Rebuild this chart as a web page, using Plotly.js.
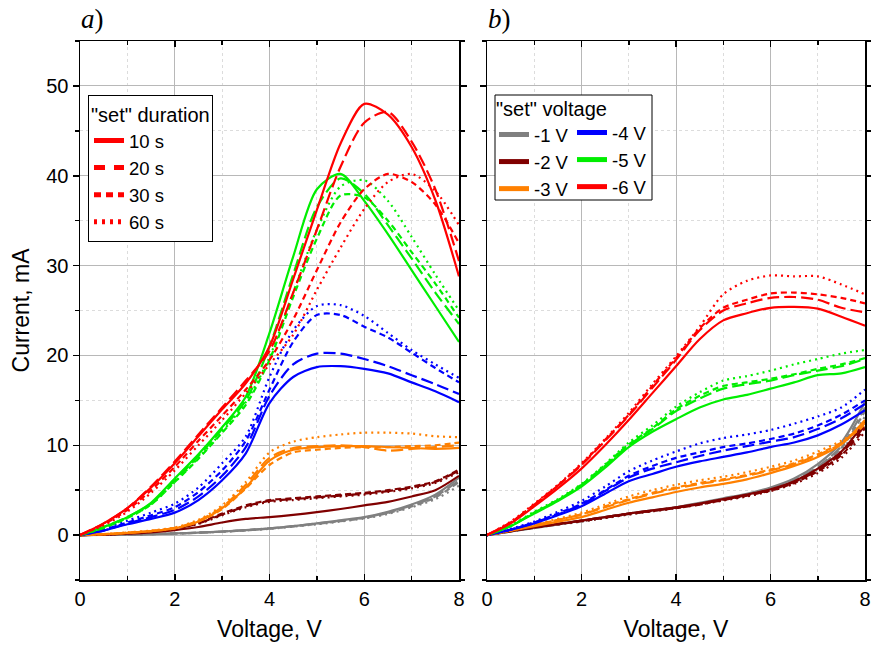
<!DOCTYPE html>
<html>
<head>
<meta charset="utf-8">
<script src="https://cdn.plot.ly/plotly-3.0.1.min.js"></script>
<style>html,body{margin:0;padding:0;background:#fff;}#chart{width:871px;height:645px;}</style>
</head>
<body>
<div id="chart"></div>
<script>
// Voltage grid (V), shared by all curves
const X = [0,0.5,1,1.5,2,2.5,3,3.5,4,4.5,5,5.5,6,6.5,7,7.5,8];

// Panel a) — colour = set voltage, line style = set duration
const a_m1_10 = [0,0.02,0.05,0.1,0.18,0.27,0.4,0.55,0.75,1.0,1.3,1.65,2.0,2.6,3.4,4.5,6.4];
const a_m1_20 = [0,0.02,0.05,0.1,0.18,0.27,0.4,0.55,0.75,1.0,1.3,1.6,1.95,2.5,3.3,4.3,6.1];
const a_m1_30 = [0,0.02,0.05,0.1,0.17,0.26,0.38,0.52,0.72,0.97,1.25,1.55,1.9,2.45,3.2,4.2,5.9];
const a_m1_60 = [0,0.02,0.05,0.1,0.17,0.26,0.38,0.52,0.7,0.95,1.2,1.5,1.85,2.35,3.1,4.0,5.5];
const a_m2_10 = [0,0.05,0.15,0.3,0.55,0.9,1.4,1.8,2.0,2.25,2.55,2.9,3.3,3.7,4.3,5.0,6.6];
const a_m2_20 = [0,0.05,0.2,0.4,0.7,1.3,2.3,3.2,3.8,4.0,4.2,4.4,4.6,4.9,5.3,5.9,7.2];
const a_m2_30 = [0,0.05,0.2,0.4,0.75,1.35,2.4,3.3,3.9,4.1,4.3,4.5,4.7,5.0,5.4,6.0,7.3];
const a_m2_60 = [0,0.05,0.2,0.4,0.7,1.25,2.2,3.1,3.7,3.9,4.1,4.3,4.5,4.8,5.2,5.8,7.0];
const a_m3_10 = [0,0.1,0.25,0.45,0.75,1.5,3.0,5.3,8.3,9.5,9.8,9.9,9.9,9.8,9.7,9.6,9.7];
const a_m3_20 = [0,0.1,0.25,0.45,0.8,1.6,3.1,5.6,8.6,9.7,9.9,10.0,9.8,9.4,9.6,9.8,10.0];
const a_m3_30 = [0,0.1,0.25,0.45,0.75,1.5,2.9,5.2,7.8,9.2,9.5,9.7,9.8,9.8,9.9,10.0,10.3];
const a_m3_60 = [0,0.1,0.3,0.5,0.85,1.7,3.3,5.9,9.2,10.4,10.9,11.2,11.4,11.4,11.3,11.0,10.9];
const a_m4_10 = [0,0.5,1.2,1.8,2.5,3.9,6.1,9.1,14.7,17.6,18.7,18.8,18.5,18.0,17.0,16.0,14.8];
const a_m4_20 = [0,0.5,1.3,2.0,2.8,4.3,6.6,9.8,15.5,19.0,20.2,20.2,19.6,18.8,17.8,16.8,15.7];
const a_m4_30 = [0,0.6,1.4,2.2,3.1,4.8,7.2,10.5,16.2,21.5,24.5,24.5,23.2,22.0,20.3,18.6,17.0];
const a_m4_60 = [0,0.7,1.6,2.5,3.5,5.3,8.0,11.0,17.6,22.8,25.5,25.6,24.4,22.5,20.6,19.0,17.5];
const a_m5_10 = [0,0.9,2.0,3.6,6.3,9.0,12.0,15.4,22.5,31,38.5,40.2,37.2,33.5,29.5,25.5,21.5];
const a_m5_20 = [0,0.9,2.0,3.5,6.1,8.8,11.8,15.0,21,29,36.5,39.7,38.0,34.5,30.8,27.0,23.5];
const a_m5_30 = [0,0.8,1.9,3.4,5.9,8.5,11.4,14.5,19.5,26.5,33,37.8,37.6,35.0,31.5,28.0,24.2];
const a_m5_60 = [0,0.8,1.9,3.4,5.9,8.6,11.5,14.8,19.8,27,34,38.8,39.5,37.2,33.2,29.0,25.0];
const a_m6_10 = [0,1.3,3.0,5.3,8.0,11.0,14.0,16.9,21.0,28.5,36.2,43.6,48.0,46.8,43.2,37.3,28.8];
const a_m6_20 = [0,1.3,3.0,5.4,8.2,11.2,14.2,17.2,20.5,27,34,41,45.9,47.1,43.8,38.5,30.5];
const a_m6_30 = [0,1.2,2.8,5.0,7.6,10.5,13.3,16.2,19.5,24,29.5,34.8,38.5,40.2,39.3,36.8,32.5];
const a_m6_60 = [0,1.1,2.6,4.7,7.2,10.0,12.8,15.8,19.0,22.3,27.3,32,36.3,39.3,40.2,38.3,34.5];

// Panel b)
const b_m1_10 = [0,0.4,0.8,1.2,1.6,2.0,2.4,2.75,3.1,3.6,4.1,4.6,5.3,6.3,7.9,10.3,14.8];
const b_m1_20 = [0,0.4,0.8,1.2,1.6,2.0,2.4,2.7,3.1,3.5,4.0,4.5,5.2,6.1,7.6,9.9,14.2];
const b_m1_30 = [0,0.4,0.8,1.2,1.55,1.95,2.35,2.7,3.05,3.5,4.0,4.5,5.1,6.0,7.5,9.7,13.8];
const b_m1_60 = [0,0.4,0.8,1.15,1.5,1.9,2.3,2.65,3.0,3.45,3.9,4.4,5.0,5.9,7.3,9.4,13.2];
const b_m2_10 = [0,0.45,0.85,1.25,1.6,2.0,2.4,2.75,3.1,3.5,4.0,4.5,5.1,6.0,7.4,9.3,12.6];
const b_m2_20 = [0,0.45,0.85,1.25,1.6,2.0,2.4,2.7,3.05,3.45,3.95,4.45,5.0,5.9,7.2,9.1,12.2];
const b_m2_30 = [0,0.45,0.85,1.2,1.55,1.95,2.35,2.7,3.0,3.4,3.9,4.4,4.95,5.8,7.1,8.9,11.9];
const b_m2_60 = [0,0.45,0.85,1.2,1.55,1.9,2.3,2.65,3.0,3.4,3.85,4.3,4.9,5.7,6.9,8.6,11.5];
const b_m3_10 = [0,0.5,1.0,1.5,2.0,2.8,3.6,4.2,4.8,5.3,5.7,6.2,6.9,7.7,8.7,10.1,12.8];
const b_m3_20 = [0,0.5,1.1,1.7,2.3,3.1,3.9,4.6,5.2,5.7,6.1,6.6,7.2,7.9,8.9,10.2,12.5];
const b_m3_30 = [0,0.5,1.1,1.7,2.3,3.2,4.0,4.7,5.3,5.8,6.2,6.7,7.3,8.0,9.0,10.3,12.3];
const b_m3_60 = [0,0.55,1.2,1.8,2.5,3.4,4.3,5.0,5.6,6.1,6.5,7.0,7.6,8.3,9.3,10.5,12.2];
const b_m4_10 = [0,0.6,1.3,2.2,3.2,4.6,6.0,6.8,7.6,8.2,8.7,9.2,9.8,10.3,11.1,12.3,13.9];
const b_m4_20 = [0,0.6,1.4,2.3,3.4,4.9,6.4,7.4,8.1,8.8,9.4,9.9,10.4,10.9,11.8,13.0,14.6];
const b_m4_30 = [0,0.6,1.4,2.4,3.5,5.0,6.6,7.7,8.6,9.2,9.8,10.2,10.7,11.3,12.2,13.4,15.0];
const b_m4_60 = [0,0.7,1.5,2.6,3.8,5.4,7.1,8.3,9.3,10.2,10.8,11.2,11.7,12.4,13.2,14.2,16.2];
const b_m5_10 = [0,1.0,2.4,3.8,5.4,7.5,9.8,11.5,12.9,14.2,15.1,15.6,16.3,17.0,17.8,18.0,18.7];
const b_m5_20 = [0,1.0,2.5,3.9,5.6,7.7,10.0,11.8,13.8,15.2,16.3,16.8,17.2,17.8,18.3,18.8,19.6];
const b_m5_30 = [0,1.0,2.5,3.9,5.6,7.8,10.1,11.9,14.0,15.5,16.6,17.0,17.4,17.9,18.5,19.0,19.7];
const b_m5_60 = [0,1.1,2.6,4.0,5.7,7.9,10.3,12.2,14.3,15.9,17.2,17.7,18.3,19.0,19.6,20.2,20.6];
const b_m6_10 = [0,1.3,3.2,5.2,7.4,10.0,12.8,15.8,18.8,21.8,23.9,24.7,25.3,25.4,25.2,24.3,23.3];
const b_m6_20 = [0,1.4,3.4,5.5,7.8,10.5,13.3,16.4,19.5,22.8,25.0,25.8,26.4,26.5,26.2,25.3,24.8];
const b_m6_30 = [0,1.4,3.4,5.5,7.9,10.6,13.4,16.6,19.7,23.0,25.3,26.2,26.9,27.0,26.8,26.4,25.8];
const b_m6_60 = [0,1.5,3.5,5.6,8.0,10.7,13.6,16.8,19.9,23.2,26.8,28.3,28.9,28.8,28.8,27.9,26.8];

const voltageNames = ['-1 V','-2 V','-3 V','-4 V','-5 V','-6 V'];
const durationNames = ['10 s','20 s','30 s','60 s'];
const xTicks = [0,2,4,6,8];
const yTicks = [0,10,20,30,40,50];

const colors = ['#808080','#800000','#ff8000','#0000ff','#00ee00','#ff0000'];
const dashes = ['solid','12px,5px','6px,4px','2px,4px'];
const legendDashes = ['solid','11px,9px','7px,5px','3px,5px'];

const panelA = [[a_m1_10,a_m1_20,a_m1_30,a_m1_60],[a_m2_10,a_m2_20,a_m2_30,a_m2_60],[a_m3_10,a_m3_20,a_m3_30,a_m3_60],
                [a_m4_10,a_m4_20,a_m4_30,a_m4_60],[a_m5_10,a_m5_20,a_m5_30,a_m5_60],[a_m6_10,a_m6_20,a_m6_30,a_m6_60]];
const panelB = [[b_m1_10,b_m1_20,b_m1_30,b_m1_60],[b_m2_10,b_m2_20,b_m2_30,b_m2_60],[b_m3_10,b_m3_20,b_m3_30,b_m3_60],
                [b_m4_10,b_m4_20,b_m4_30,b_m4_60],[b_m5_10,b_m5_20,b_m5_30,b_m5_60],[b_m6_10,b_m6_20,b_m6_30,b_m6_60]];

const traces = [];
[[panelA,'x','y'],[panelB,'x2','y2']].forEach(([panel,xa,ya]) => {
  panel.forEach((group, ci) => {
    group.forEach((ys, di) => {
      traces.push({x: X, y: ys, xaxis: xa, yaxis: ya, type: 'scatter', mode: 'lines',
        line: {color: colors[ci], width: 2.2, dash: dashes[di], shape: 'spline', smoothing: 0.8},
        showlegend: false, hoverinfo: 'skip'});
    });
  });
});
// legend entries
durationNames.forEach((n, di) => {
  traces.push({x:[null], y:[null], type:'scatter', mode:'lines', name:n, legend:'legend',
    line:{color:'#ff0000', width:5, dash: legendDashes[di]}, showlegend:true});
});
voltageNames.forEach((n, ci) => {
  traces.push({x:[null], y:[null], xaxis:'x2', yaxis:'y2', type:'scatter', mode:'lines', name:n,
    legend: ci < 3 ? 'legend2' : 'legend3',
    line:{color: colors[ci], width:5}, showlegend:true});
});

const W = 871, H = 645;
const FONT = 'Liberation Sans, Arial, sans-serif';
const LFS = 18.5;
const common = {
  showline: true, linecolor: '#000', linewidth: 1.5, mirror: 'ticks',
  showgrid: true, gridcolor: '#b8b8b8', gridwidth: 1, zeroline: false,
  tickfont: {family: FONT, size: 20, color: '#000'}, tickcolor: '#000', tickwidth: 1.5
};
const xCommon = Object.assign({}, common, {
  range: [0, 8], tickvals: xTicks, ticks: 'inside', ticklen: 6,
  minor: {dtick: 1, tick0: 0, showgrid: true, gridcolor: '#dcdcdc', griddash: 'dot', gridwidth: 1, ticks: 'inside', ticklen: 4, tickcolor: '#000'},
  title: {text: 'Voltage, V', font: {family: FONT, size: 23, color: '#000'}, standoff: 12},
  automargin: false
});
const yCommon = Object.assign({}, common, {
  range: [-5, 55], tickvals: yTicks, ticks: 'outside', ticklen: 6,
  minor: {dtick: 5, tick0: 0, showgrid: true, gridcolor: '#dcdcdc', griddash: 'dot', gridwidth: 1, ticks: 'outside', ticklen: 4, tickcolor: '#000'},
  automargin: false
});
const yDom = [(H - 580) / H, (H - 41) / H];

const layout = {
  width: W, height: H, margin: {l: 0, r: 0, t: 0, b: 0},
  paper_bgcolor: '#fff', plot_bgcolor: '#fff',
  font: {family: FONT, color: '#000'},
  xaxis: Object.assign({}, xCommon, {domain: [80 / W, 459 / W], anchor: 'y'}),
  yaxis: Object.assign({}, yCommon, {domain: yDom, anchor: 'x',
    title: {text: 'Current, mA', font: {family: FONT, size: 23, color: '#000'}, standoff: 10}}),
  xaxis2: Object.assign({}, xCommon, {domain: [487 / W, 865 / W], anchor: 'y2'}),
  yaxis2: Object.assign({}, yCommon, {domain: yDom, anchor: 'x2', showticklabels: false}),
  legend: {x: 88 / W, y: 1 - 95 / H, xanchor: 'left', yanchor: 'top', bgcolor: '#fff',
    bordercolor: '#000', borderwidth: 1, font: {family: FONT, size: LFS, color: '#000'},
    title: {text: '"set" duration', font: {family: FONT, size: 20, color: '#000'}}, tracegroupgap: 0},
  legend2: {x: 494 / W, y: 1 - 90 / H, xanchor: 'left', yanchor: 'top', bgcolor: 'rgba(0,0,0,0)',
    borderwidth: 0, font: {family: FONT, size: LFS, color: '#000'},
    title: {text: '"set" voltage', font: {family: FONT, size: 20, color: '#000'}}, tracegroupgap: 0},
  legend3: {x: 572 / W, y: 1 - 114 / H, xanchor: 'left', yanchor: 'top', bgcolor: 'rgba(0,0,0,0)',
    borderwidth: 0, font: {family: FONT, size: LFS, color: '#000'}, tracegroupgap: 0},
  shapes: [{type: 'rect', xref: 'paper', yref: 'paper', x0: 495 / W, x1: 652 / W, y0: 1 - 200 / H, y1: 1 - 95 / H,
    line: {color: '#000', width: 1}, fillcolor: '#fff', layer: 'above'}],
  annotations: [
    {text: '<i>a</i>)', xref: 'paper', yref: 'paper', x: 79 / W, y: 1 - 19 / H, xanchor: 'left', yanchor: 'middle',
     showarrow: false, font: {family: 'Liberation Serif, Times New Roman, serif', size: 27, color: '#000'}},
    {text: '<i>b</i>)', xref: 'paper', yref: 'paper', x: 486 / W, y: 1 - 19 / H, xanchor: 'left', yanchor: 'middle',
     showarrow: false, font: {family: 'Liberation Serif, Times New Roman, serif', size: 27, color: '#000'}}
  ]
};

Plotly.newPlot('chart', traces, layout, {displayModeBar: false, staticPlot: true});
</script>
</body>
</html>
